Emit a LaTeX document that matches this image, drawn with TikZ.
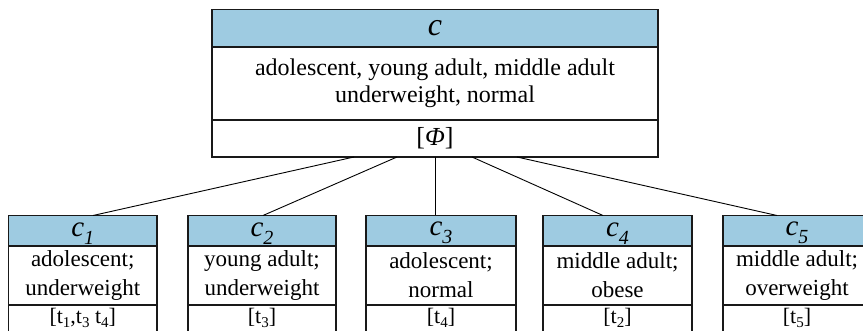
\documentclass[tikz,border=0pt]{standalone}
\usepackage{fontspec}
\setmainfont{Liberation Serif}
\definecolor{hdr}{RGB}{158,203,225}
\newcommand\csub[1]{\textit{c}\raisebox{-8pt}{\fontsize{20}{20}\selectfont\textit{#1}}}
\newcommand\tsub[1]{t\raisebox{-4pt}{\fontsize{15}{15}\selectfont #1}}
\tikzset{
  cell/.style={draw=black!90, line width=1.1pt, rectangle, inner sep=0pt, align=center},
  hcell/.style={cell, fill=hdr},
  toptext/.style={font=\fontsize{24}{26.7}\selectfont},
  bottext/.style={font=\fontsize{23}{29}\selectfont},
  foottext/.style={inner sep=0pt, font=\fontsize{22}{22}\selectfont},
  link/.style={draw=black, line width=0.9pt}
}
\begin{document}
\begin{tikzpicture}[x=1pt,y=1pt]
\useasboundingbox (0,0) rectangle (863,-331);
% top box
\node[hcell, minimum width=446pt, minimum height=37.5pt, font=\fontsize{32}{32}\selectfont] (th) at (435,-28.25) {\textit{c}};
\node[cell, minimum width=446pt, minimum height=73pt, toptext] (tb) at (435,-83.5) {adolescent, young adult, middle adult\\underweight, normal};
\node[cell, minimum width=446pt, minimum height=37pt, font=\fontsize{26}{26}\selectfont] (tf) at (435,-138.5) {[\textit{Φ}]};
% bottom boxes
\foreach \n/\cx/\w/\lab/\body/\foot in {
  1/82.75/148.5/1/{adolescent;\\underweight}/{[\tsub{1},\tsub{3} \tsub{4}]},
  2/262/148/2/{young adult;\\underweight}/{[\tsub{3}]},
  3/441/150/3/{adolescent;\\normal}/{[\tsub{4}]},
  4/617.5/149/4/{middle adult;\\obese}/{[\tsub{2}]},
  5/797/148/5/{middle adult;\\overweight}/{[\tsub{5}]}}{
  \node[hcell, minimum width=\w pt, minimum height=30.5pt, font=\fontsize{29}{29}\selectfont] (h\n) at (\cx,-230.75) {\csub{\lab}\vphantom{$\mathstrut$}};
  \node[cell, minimum width=\w pt, minimum height=59pt, bottext] (b\n) at (\cx,-275.5) {\body};
  \node[cell, minimum width=\w pt, minimum height=31pt] (f\n) at (\cx,-320.5) {};
  \node[foottext, anchor=base] (ft\n) at (\cx,-324) {\foot};
}
% connector anchor points
\coordinate (s1) at (354,-157);
\coordinate (s2) at (397,-157);
\coordinate (s3) at (435,-157);
\coordinate (s4) at (472,-157);
\coordinate (s5) at (517,-157);
\coordinate (e1) at (93,-215.5);
\coordinate (e2) at (263,-215.5);
\coordinate (e3) at (435,-215.5);
\coordinate (e4) at (603,-215.5);
\coordinate (e5) at (777,-215.5);
\foreach \i in {1,...,5}{\draw[link] (s\i) -- (e\i);}
\end{tikzpicture}
\end{document}
